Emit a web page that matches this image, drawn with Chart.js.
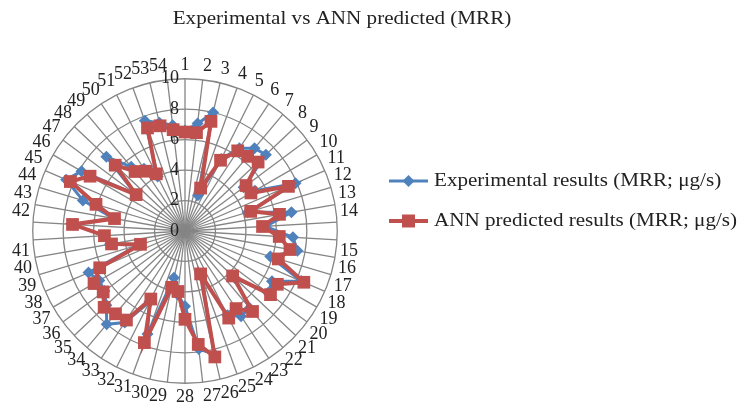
<!DOCTYPE html>
<html><head><meta charset="utf-8">
<script src="https://cdn.jsdelivr.net/npm/chart.js@4.4.0/dist/chart.umd.min.js"></script>
<style>html,body{margin:0;padding:0;background:#fff}#wrap{width:742px;height:409px;position:relative}</style>
</head><body><div id="wrap"><canvas id="c" width="742" height="409"></canvas></div>
<script>
const chartTitle = 'Experimental vs ANN predicted (MRR)';
const categories = ['1','2','3','4','5','6','7','8','9','10','11','12','13','14','15','16','17','18','19','20','21','22','23','24','25','26','27','28','29','30','31','32','33','34','35','36','37','38','39','40','41','42','43','44','45','46','47','48','49','50','51','52','53','54'];
const seriesNames = ['Experimental results (MRR; μg/s)', 'ANN predicted results (MRR; μg/s)'];
const experimental = [6.6,7.1,8.0,2.5,5.3,6.5,7.1,7.3,4.8,5.3,7.9,4.3,7.1,5.3,7.1,7.5,5.85,8.3,6.6,6.8,4.5,6.6,6.7,6.2,3.2,8.3,7.8,4.95,4.2,3.15,7.2,5.2,7.2,8.0,7.1,6.6,6.5,6.9,3.2,5.0,5.3,7.3,4.8,7.0,8.5,7.85,4.0,7.1,5.5,4.9,4.0,7.7,7.3,7.0];
const annPredicted = [6.5,6.5,7.4,3.0,5.2,6.3,6.4,6.6,5.0,5.0,7.4,4.5,6.3,5.1,6.2,7.0,6.4,8.5,7.0,7.0,4.3,6.9,6.1,6.4,3.0,8.5,7.5,5.8,4.0,3.8,7.8,5.0,7.0,7.1,7.3,6.7,6.9,6.1,3.05,4.9,5.3,7.4,4.7,6.1,8.2,7.2,4.0,6.3,5.1,4.7,4.2,7.2,7.1,6.7];
const tickValues = [0,2,4,6,8,10];

const BLUE = '#4F81BD', RED = '#C0504D', GRID = '#858585';
const FONT = '"Liberation Serif", "Times New Roman", serif';

function stretchedText(ctx, text, x, y, align, sx) {
  ctx.save();
  ctx.translate(x, y);
  ctx.scale(sx, 1);
  ctx.textAlign = align;
  ctx.fillText(text, 0, 0);
  ctx.restore();
}

const extras = {
  id: 'extras',
  beforeDatasetsDraw(chart) {
    const s = chart.scales.r, ctx = chart.ctx;
    ctx.save();
    ctx.font = '18px ' + FONT;
    ctx.fillStyle = '#222';
    ctx.textAlign = 'right';
    ctx.textBaseline = 'middle';
    tickValues.forEach(v => {
      const d = s.getDistanceFromCenterForValue(v);
      ctx.fillText(String(v), s.xCenter - 6, s.yCenter - d);
    });
    ctx.restore();
  },
  afterDraw(chart) {
    const ctx = chart.ctx;
    ctx.save();
    ctx.font = '19px ' + FONT;
    ctx.fillStyle = '#222';
    ctx.textBaseline = 'middle';
    stretchedText(ctx, chartTitle, 342, 19, 'center', 1.11);
    const rows = [
      {name: seriesNames[0], color: BLUE, lw: 3, shape: 'diamond', y: 181},
      {name: seriesNames[1], color: RED, lw: 4, shape: 'square', y: 221}
    ];
    rows.forEach(r => {
      ctx.strokeStyle = r.color; ctx.fillStyle = r.color; ctx.lineWidth = r.lw;
      ctx.beginPath(); ctx.moveTo(389, r.y); ctx.lineTo(428, r.y); ctx.stroke();
      ctx.beginPath();
      if (r.shape === 'diamond') {
        ctx.moveTo(408.5, r.y - 6); ctx.lineTo(414.5, r.y); ctx.lineTo(408.5, r.y + 6); ctx.lineTo(402.5, r.y); ctx.closePath();
      } else {
        ctx.rect(402, r.y - 6.5, 13, 13);
      }
      ctx.fill();
      ctx.fillStyle = '#222';
      stretchedText(ctx, r.name, 434, r.y, 'left', 1.11);
    });
    ctx.restore();
  }
};

new Chart(document.getElementById('c'), {
  type: 'radar',
  data: {
    labels: categories,
    datasets: [
      {label: seriesNames[0], data: experimental, borderColor: BLUE, backgroundColor: BLUE,
       borderWidth: 3, pointStyle: 'rectRot', pointRadius: 6, pointBackgroundColor: BLUE, pointBorderColor: BLUE, pointBorderWidth: 0, fill: false, order: 1},
      {label: seriesNames[1], data: annPredicted, borderColor: RED, backgroundColor: RED,
       borderWidth: 4, pointStyle: 'rect', pointRadius: 9, pointBackgroundColor: RED, pointBorderColor: RED, pointBorderWidth: 0, fill: false, order: 0}
    ]
  },
  options: {
    responsive: false,
    animation: false,
    devicePixelRatio: 1,
    layout: {padding: {left: 12, right: 384, top: 54, bottom: 0}},
    plugins: {legend: {display: false}, title: {display: false}, tooltip: {enabled: false}},
    elements: {line: {tension: 0}},
    scales: {
      r: {
        min: 0, max: 10,
        ticks: {stepSize: 2, display: false},
        grid: {color: GRID, circular: true, lineWidth: 1.3},
        angleLines: {color: GRID, lineWidth: 1.3},
        pointLabels: {font: {family: FONT, size: 18}, color: '#222', padding: 3}
      }
    }
  },
  plugins: [extras]
});
</script>
</body></html>
